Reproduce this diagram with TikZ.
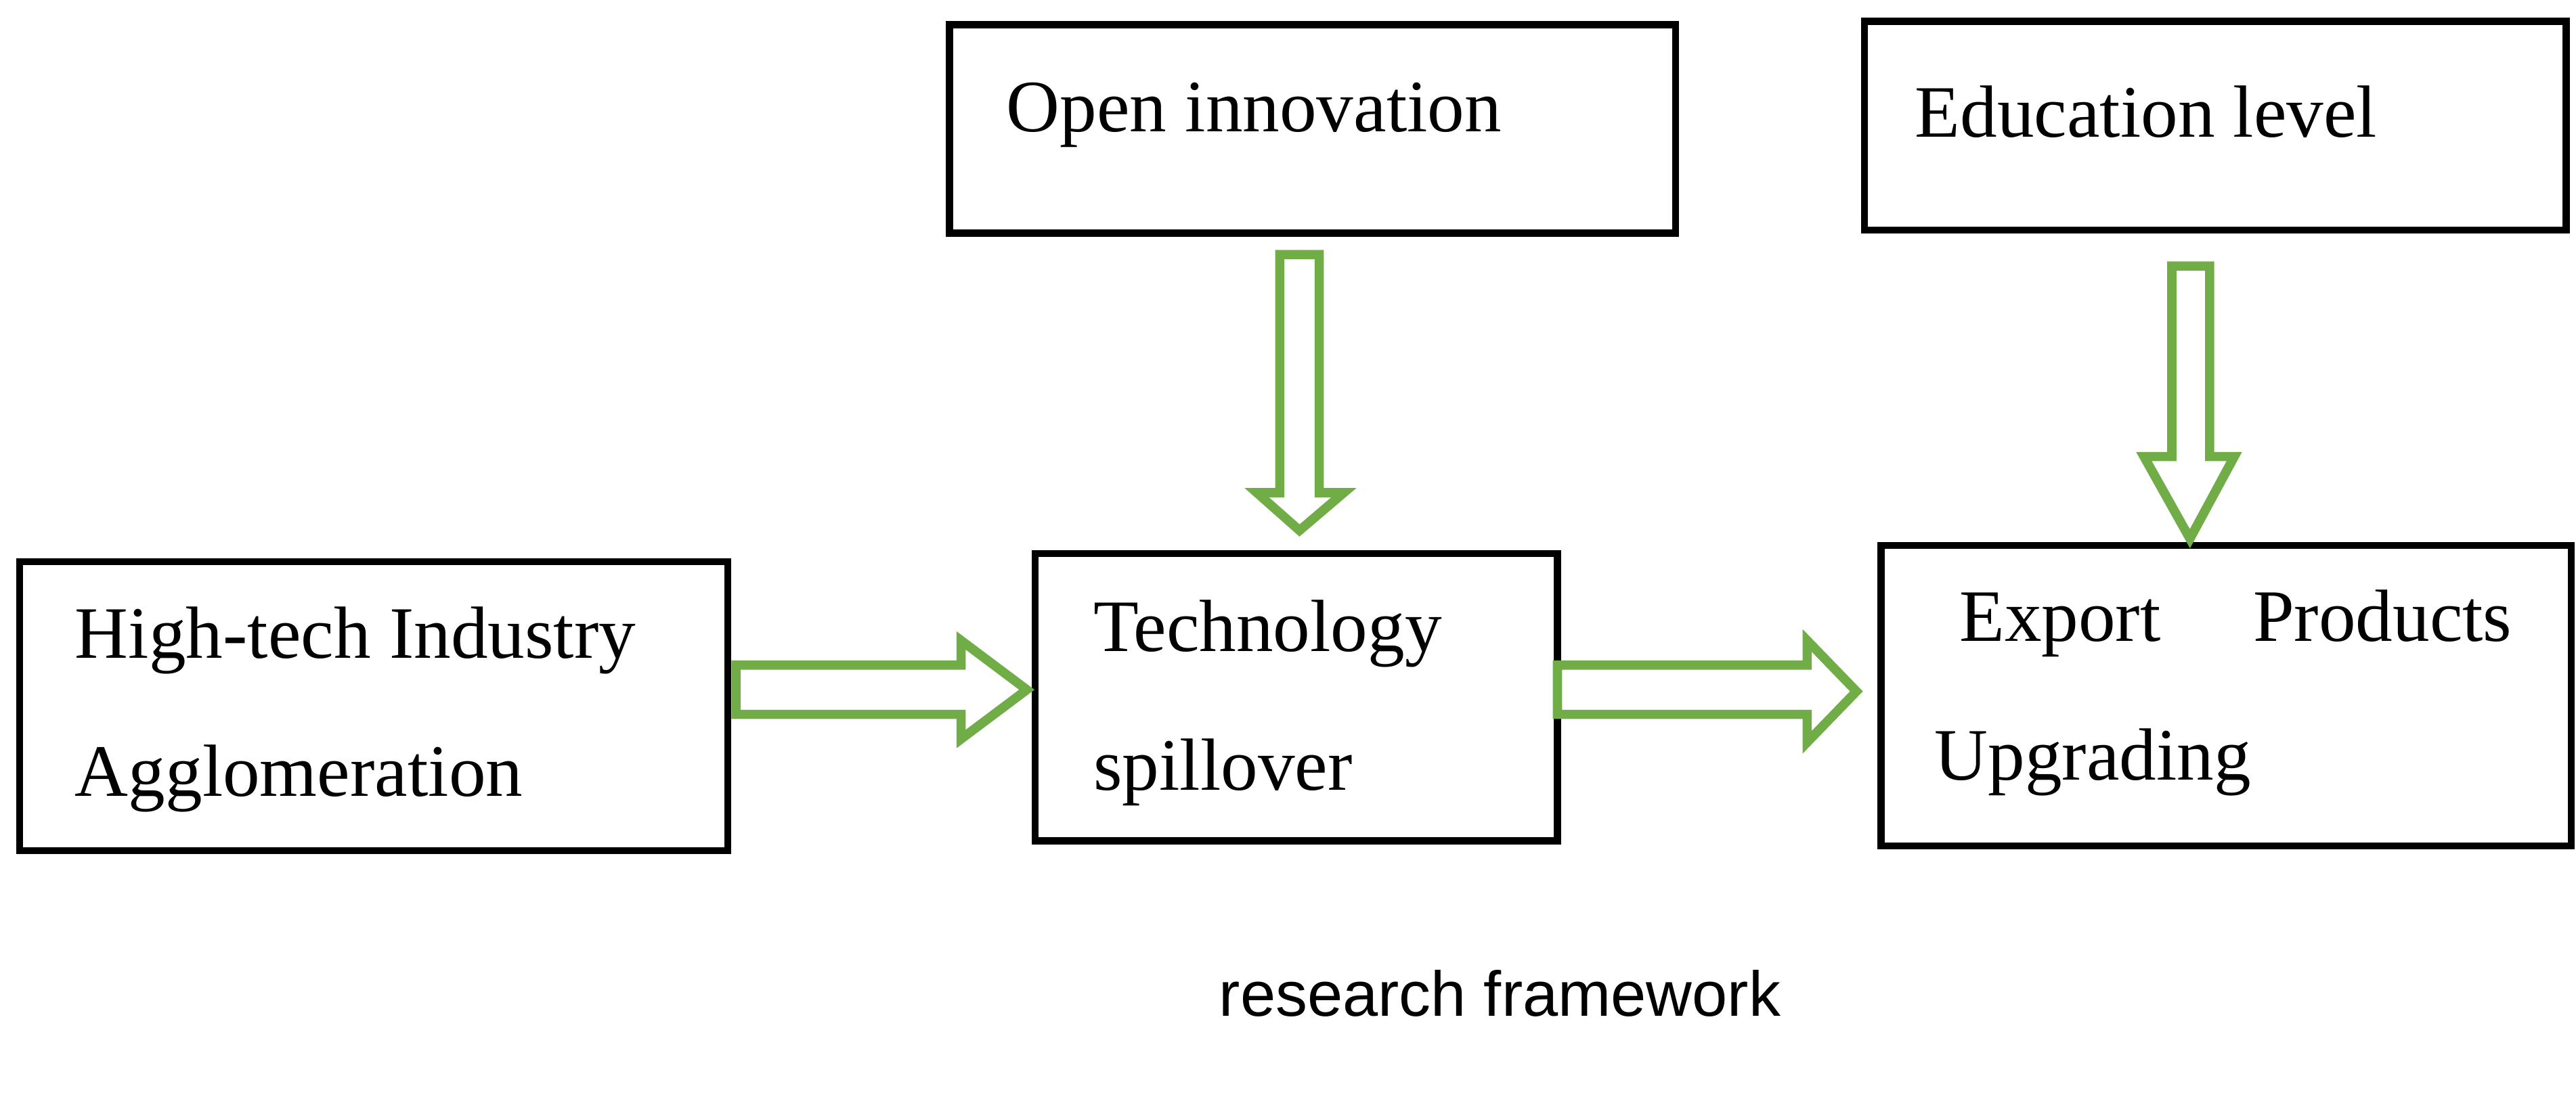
\documentclass[tikz,border=0pt]{standalone}
\usepackage{fontspec}
\setmainfont{Liberation Serif}
\newfontfamily\capfont{Liberation Sans}
\begin{document}
\begin{tikzpicture}[x=0.01cm,y=-0.01cm,
  lbl/.style={font=\fontsize{12.8}{16}\selectfont,align=left,anchor=west,inner sep=0pt},
  harrow/.style={draw={rgb,255:red,112;green,173;blue,71},line width=1.6pt,fill=white,line join=miter}]
\useasboundingbox (0,0) rectangle (1568,682);
\draw[line width=1.2pt] (578,15) rectangle (1020,142);
\node[lbl] (toi) at (612,70) {Open innovation};
\draw[line width=1.2pt] (1135,13) rectangle (1562,140);
\node[lbl] (tel) at (1165,68) {Education level};
\draw[line width=1.2pt] (12,342) rectangle (443,518);
\node[lbl] (tht) at (45,432) {High-tech Industry\\[8pt]Agglomeration};
\draw[line width=1.2pt] (630,337) rectangle (948,512);
\node[lbl] (tts) at (665,428) {Technology\\[8pt]spillover};
\draw[line width=1.2pt] (1145,332) rectangle (1565,515);
\node[lbl] (tep) at (1177,422) {\,\,Export\hspace{1.25em}Products\\[8pt]Upgrading};
% hollow arrows
\draw[harrow] (779,155) -- (803,155) -- (803,300) -- (818,300) -- (791,323) -- (765,300) -- (779,300) -- cycle;
\draw[harrow] (1322,162) -- (1345,162) -- (1345,278) -- (1360,278) -- (1333,328) -- (1305,278) -- (1322,278) -- cycle;
\draw[harrow] (448,405) -- (585,405) -- (585,390) -- (625,420) -- (585,450) -- (585,435) -- (448,435) -- cycle;
\draw[harrow] (948,405) -- (1100,405) -- (1100,390) -- (1130,421) -- (1100,452) -- (1100,435) -- (948,435) -- cycle;
\node[font=\capfont\fontsize{11}{13}\selectfont] (cap) at (913,605) {research framework};
\end{tikzpicture}
\end{document}
